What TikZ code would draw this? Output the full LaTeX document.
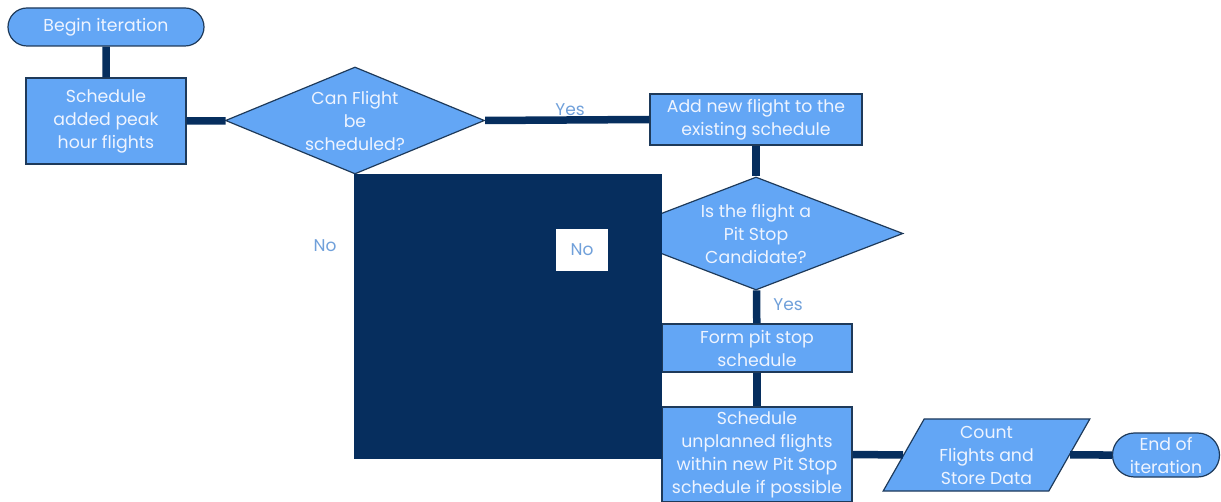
\documentclass[tikz,border=0pt]{standalone}
\usepackage{fontspec}
\setmainfont{Poppins}
\usetikzlibrary{shapes.geometric, shapes.misc, positioning}
\definecolor{boxblue}{RGB}{99,166,245}
\definecolor{linknavy}{RGB}{6,46,94}
\definecolor{edgenavy}{RGB}{30,58,90}
\definecolor{labelblue}{RGB}{112,160,218}
\definecolor{boxtext}{RGB}{238,244,255}
\tikzstyle{block} = [rectangle, draw=edgenavy, line width=1.2pt,
    fill=boxblue, text=boxtext, align=center, inner sep=0pt,
    font=\fontsize{17.3}{23}\selectfont]
\tikzstyle{terminal} = [block, rounded rectangle]
\tikzstyle{decision} = [block, diamond, aspect=2.4]
\tikzstyle{iobox} = [block, trapezium, trapezium left angle=62,
    trapezium right angle=118, trapezium stretches=true]
\tikzstyle{link} = [draw=linknavy, line width=7.5pt]
\tikzstyle{answer} = [text=labelblue, font=\fontsize{17}{19}\selectfont]

\begin{document}
\begin{tikzpicture}[x=1pt, y=-1pt]
  \useasboundingbox (0,0) rectangle (1221,502);
  \node (begin)  [terminal, minimum width=196pt, minimum height=38pt] at (106,27) {Begin iteration};
  \node (sched)  [block, minimum width=160pt, minimum height=86pt] at (106,121) {Schedule\\ added peak\\ hour flights};
  \node (canfly) [decision, minimum width=259pt, minimum height=107pt] at (355,120.5) {Can Flight\\ be\\ scheduled?};
  \node (add)    [block, minimum width=212pt, minimum height=51pt] at (756,119.5) {Add new flight to the\\ existing schedule};
  \node (pitq)   [decision, minimum width=294pt, minimum height=113pt] at (756,233.5) {Is the flight a\\ Pit Stop\\ Candidate?};
  \node (form)   [block, minimum width=190pt, minimum height=48pt] at (757,348) {Form pit stop\\ schedule};
  \node (unpl)   [block, minimum width=190pt, minimum height=95pt] at (757,454.5) {Schedule\\ unplanned flights\\ within new Pit Stop\\ schedule if possible};
  \node (count)  [iobox, minimum width=207pt, minimum height=72pt] at (986.5,455) {Count\\ Flights and\\ Store Data};
  \node (endit)  [terminal, minimum width=107pt, minimum height=44pt] at (1166,455) {End of\\ iteration};

  \draw[link] (begin) -- (sched);
  \draw[link] (sched) -- (canfly);
  \draw[link] (canfly.east) -- (add.west);
  \draw[link] (add) -- (pitq);
  \draw[link] (pitq) -- (form);
  \draw[link] (form) -- (unpl);
  \draw[link] (unpl.east) -- (count.west);
  \draw[link] (count.east) -- (endit.west);

  \node (yes1) [answer] at (570,110) {Yes};
  \node (yes2) [answer] at (788,305) {Yes};
  \node (no1)  [answer] at (325,246) {No};

  % dark panel over the no branch
  \node (panel) [fill=linknavy, inner sep=0pt, minimum width=308pt, minimum height=285pt] at (508,316.5) {};
  \node (no2)  [answer, fill=white, minimum width=52pt, minimum height=42pt, inner sep=0pt] at (582,250) {No};
\end{tikzpicture}
\end{document}
